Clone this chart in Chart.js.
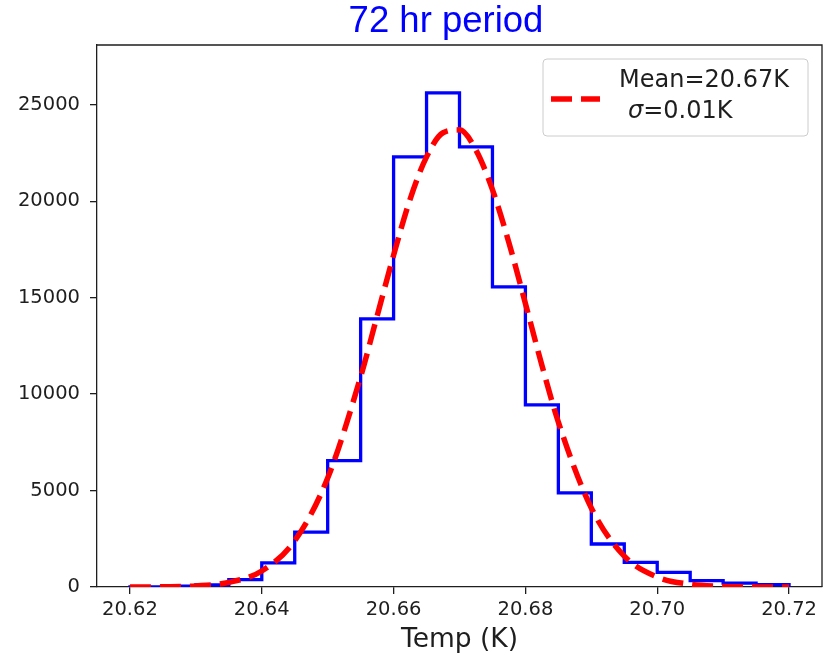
<!DOCTYPE html>
<html><head><meta charset="utf-8">
<script src="https://cdn.jsdelivr.net/npm/chart.js@4.4.0/dist/chart.umd.min.js"></script>
<style>html,body{margin:0;padding:0;background:#fff;} canvas{display:block;}</style>
</head><body>
<canvas id="c" width="829" height="656"></canvas>
<script>
// ---- data ----
const binEdges = [20.620, 20.625, 20.630, 20.635, 20.640, 20.645, 20.650, 20.655, 20.660, 20.665,
                  20.670, 20.675, 20.680, 20.685, 20.690, 20.695, 20.700, 20.705, 20.710, 20.715, 20.720];
const binCounts = [10, 50, 110, 380, 1250, 2850, 6550, 13900, 22300, 25620,
                   22820, 15560, 9440, 4875, 2230, 1275, 757, 330, 200, 120];
const fitX = [20.620, 20.625, 20.630, 20.635, 20.640, 20.645, 20.650, 20.655, 20.6575, 20.660, 20.6625,
              20.665, 20.6675, 20.670, 20.6725, 20.675, 20.6775, 20.680, 20.6825, 20.685, 20.690,
              20.695, 20.700, 20.705, 20.710, 20.715, 20.720];
const fitY = [0, 10, 55, 240, 830, 2400, 5650, 10900, 14050, 17200, 20100,
              22300, 23550, 23700, 22650, 20600, 17850, 14700, 11500, 8550, 4100,
              1600, 520, 140, 30, 5, 0];
const xTicks = [20.62, 20.64, 20.66, 20.68, 20.70, 20.72];
const yTicks = [0, 5000, 10000, 15000, 20000, 25000];
const titleText = '72 hr period';
const xLabel = 'Temp (K)';
const legendLine1 = 'Mean=20.67K';
const legendSigma = 'σ';
const legendLine2 = '=0.01K';

// ---- build datasets ----
const histPoints = [{x: binEdges[0], y: 0}];
binCounts.forEach((c, i) => histPoints.push({x: binEdges[i], y: c}));
histPoints.push({x: binEdges[binEdges.length - 1], y: 0});
const fitPoints = fitX.map((x, i) => ({x: x, y: fitY[i]}));

const INK = '#1e1e1e';

const decorPlugin = {
  id: 'decor',
  afterDraw(chart) {
    const ctx = chart.ctx;
    const a = chart.chartArea;
    ctx.save();
    // top & right spines
    ctx.strokeStyle = INK;
    ctx.lineWidth = 1.3;
    ctx.beginPath();
    ctx.moveTo(a.left, a.top);
    ctx.lineTo(a.right, a.top);
    ctx.lineTo(a.right, a.bottom);
    ctx.stroke();
    // title
    ctx.fillStyle = '#0000ff';
    ctx.font = '36.5px "Liberation Sans", Arial, sans-serif';
    ctx.textAlign = 'center';
    ctx.textBaseline = 'middle';
    ctx.fillText(titleText, 446, 22);
    // legend box
    ctx.beginPath();
    ctx.roundRect(543, 59, 265, 77, 4);
    ctx.fillStyle = 'rgba(255,255,255,0.8)';
    ctx.fill();
    ctx.strokeStyle = '#cccccc';
    ctx.lineWidth = 1;
    ctx.stroke();
    // legend handle
    ctx.beginPath();
    ctx.setLineDash([21, 9]);
    ctx.strokeStyle = '#ff0000';
    ctx.lineWidth = 5.5;
    ctx.moveTo(551, 99);
    ctx.lineTo(600, 99);
    ctx.stroke();
    ctx.setLineDash([]);
    // legend text
    ctx.fillStyle = INK;
    ctx.textAlign = 'left';
    ctx.textBaseline = 'middle';
    ctx.font = '24px "DejaVu Sans"';
    ctx.fillText(legendLine1, 619, 81);
    ctx.font = 'italic 24px "DejaVu Sans"';
    ctx.fillText(legendSigma, 628, 112);
    const w = ctx.measureText(legendSigma).width;
    ctx.font = '24px "DejaVu Sans"';
    ctx.fillText(legendLine2, 628 + w, 112);
    ctx.restore();
  }
};

new Chart(document.getElementById('c').getContext('2d'), {
  type: 'line',
  data: {
    datasets: [
      {label: 'fit', data: fitPoints, borderColor: '#ff0000', borderWidth: 5.5, borderDash: [21, 9],
       pointRadius: 0, cubicInterpolationMode: 'monotone', fill: false, order: 0},
      {label: 'hist', data: histPoints, borderColor: '#0000ff', borderWidth: 3.3, stepped: 'before',
       pointRadius: 0, fill: false, order: 1}
    ]
  },
  options: {
    responsive: false,
    animation: false,
    events: [],
    layout: {padding: {left: 0, top: 45, right: 7, bottom: 0}},
    plugins: {legend: {display: false}, tooltip: {enabled: false}, title: {display: false}},
    scales: {
      x: {
        type: 'linear', min: 20.615, max: 20.725,
        afterBuildTicks: s => { s.ticks = xTicks.map(v => ({value: v})); },
        afterFit: s => { s.height = 69; },
        ticks: {callback: v => Number(v).toFixed(2), font: {family: 'DejaVu Sans', size: 19.5},
                color: INK, padding: 4, maxRotation: 0, autoSkip: false},
        grid: {drawOnChartArea: false, drawTicks: true, tickLength: 7, color: INK, lineWidth: 1.3},
        border: {display: true, color: INK, width: 1.3},
        title: {display: true, text: xLabel, font: {family: 'DejaVu Sans', size: 26.5}, color: INK,
                padding: {top: 0, bottom: 0}}
      },
      y: {
        type: 'linear', min: 0, max: 28100,
        afterBuildTicks: s => { s.ticks = yTicks.map(v => ({value: v})); },
        afterFit: s => { s.width = 97; },
        ticks: {callback: v => String(v), font: {family: 'DejaVu Sans', size: 19.5}, color: INK, padding: 10},
        grid: {drawOnChartArea: false, drawTicks: true, tickLength: 7, color: INK, lineWidth: 1.3},
        border: {display: true, color: INK, width: 1.3}
      }
    }
  },
  plugins: [decorPlugin]
});
</script>
</body></html>
